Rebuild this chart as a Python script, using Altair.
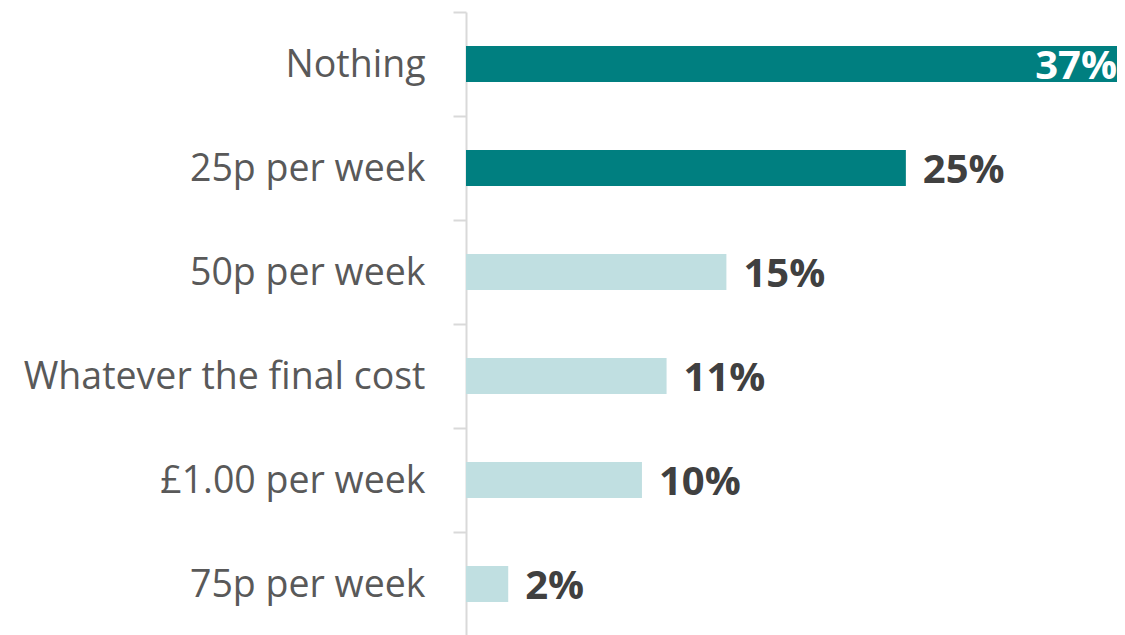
import altair as alt
import pandas as pd

categories = ["Nothing", "25p per week", "50p per week", "Whatever the final cost", "£1.00 per week", "75p per week"]
values = [37, 25, 14.8, 11.4, 10, 2.4]
labels = ["37%", "25%", "15%", "11%", "10%", "2%"]
groups = ["top", "top", "rest", "rest", "rest", "rest"]

df = pd.DataFrame({"cat": categories, "val": values, "label": labels, "grp": groups})
df["inside"] = df["val"] >= 30

FONT = "Open Sans"

y = alt.Y("cat:N", sort=categories, title=None,
          scale=alt.Scale(paddingInner=0, paddingOuter=0),
          axis=alt.Axis(labelFont=FONT, labelFontSize=37.5, labelColor="#595959",
                        labelPadding=28, labelOffset=2, tickSize=13, tickColor="#D9D9D9", tickWidth=2,
                        domainColor="#D9D9D9", domainWidth=2, bandPosition=0,
                        labelLimit=500))
x = alt.X("val:Q", title=None, scale=alt.Scale(domain=[0, 37], nice=False, zero=True),
          axis=None)

bars = alt.Chart(df).mark_bar(size=36).encode(
    x=x, y=y,
    color=alt.Color("grp:N", scale=alt.Scale(domain=["top", "rest"], range=["#007F80", "#C0DFE1"]), legend=None),
)

outside = alt.Chart(df).transform_filter("!datum.inside").mark_text(
    align="left", baseline="middle", dx=17, dy=3, font=FONT, fontSize=40, fontWeight="bold", color="#404040"
).encode(x=x, y=y, text="label:N")

inside = alt.Chart(df).transform_filter("datum.inside").mark_text(
    align="right", baseline="middle", dx=0, dy=3, font=FONT, fontSize=40, fontWeight="bold", color="#FFFFFF"
).encode(x=x, y=y, text="label:N")

chart = (bars + outside + inside).properties(
    width=651, height=624,
    autosize=alt.AutoSizeParams(type="none"),
    padding={"left": 458, "top": 4, "right": 0, "bottom": 0},
).configure_view(stroke=None)

chart.save("out.html", embed_options={"renderer": "svg", "actions": False})
